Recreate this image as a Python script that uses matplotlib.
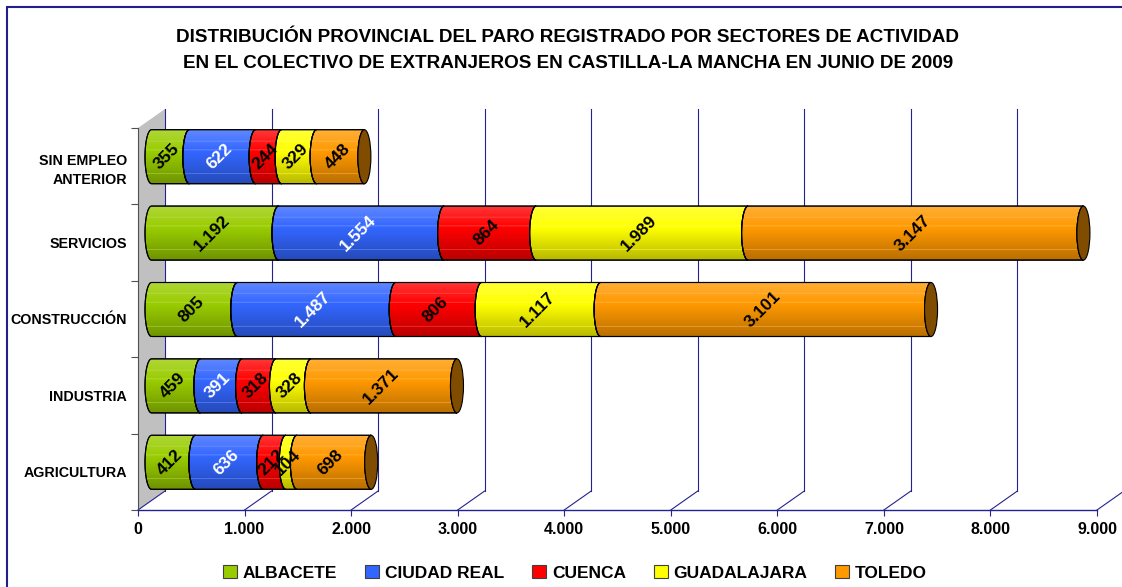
import numpy as np
import matplotlib.pyplot as plt
from matplotlib.patches import Polygon, Ellipse, Rectangle, Patch
from matplotlib.ticker import FuncFormatter

plt.rcParams['font.family'] = ['Liberation Sans', 'DejaVu Sans']
plt.rcParams['font.weight'] = 'bold'

# datos (de abajo a arriba)
sectores = ['AGRICULTURA', 'INDUSTRIA', 'CONSTRUCCIÓN', 'SERVICIOS', 'SIN EMPLEO\nANTERIOR']
provincias = ['ALBACETE', 'CIUDAD REAL', 'CUENCA', 'GUADALAJARA', 'TOLEDO']
albacete = [412, 459, 805, 1192, 355]
ciudad_real = [636, 391, 1487, 1554, 622]
cuenca = [212, 318, 806, 864, 244]
guadalajara = [104, 328, 1117, 1989, 329]
toledo = [698, 1371, 3101, 3147, 448]
series = [albacete, ciudad_real, cuenca, guadalajara, toledo]

colores = ['#99cc00', '#3366ff', '#ff0000', '#ffff00', '#ff9900']
color_texto = ['black', 'white', 'black', 'black', 'black']
navy = '#23238f'

W, H = 1122, 587
fig = plt.figure(figsize=(W / 100, H / 100), dpi=100)
ax = fig.add_axes([138 / W, (H - 510) / H, 959 / W, 382 / H])
xmax = 9000
ax.set_xlim(0, xmax)
ax.set_ylim(-0.5, 4.5)

# unidades de datos por pixel, para el efecto 3D
ux = xmax / 959
uy = 5 / 382
DX, DY = 27 * ux, 19 * uy      # profundidad de la pared del fondo
ew = 6.5 * ux                  # semieje de las elipses
hh = 27 * uy                   # media altura del cilindro


def fmt(v, pos=None):
    return f'{int(v):,}'.replace(',', '.')


# pared lateral gris
ax.add_patch(Polygon([(0, -0.5), (DX, -0.5 + DY), (DX, 4.5 + DY), (0, 4.5)],
                     closed=True, facecolor='#c0c0c0', edgecolor='none',
                     zorder=0.5, clip_on=False))

# rejilla: suelo y pared del fondo
ticks = np.arange(0, xmax + 1, 1000)
for v in ticks:
    ax.plot([v, v + DX], [-0.5, -0.5 + DY], color=navy, lw=0.8, zorder=1, clip_on=False)
    ax.plot([v + DX, v + DX], [-0.5 + DY, 4.5 + DY], color=navy, lw=0.8, zorder=1, clip_on=False)


def sombra(n=80):
    img = np.zeros((n, 1, 4))
    t = np.linspace(0, 1, n)
    for i, ti in enumerate(t):
        if ti < 0.4:
            img[i, 0] = [1, 1, 1, 0.22 * (1 - ti / 0.4)]
        else:
            img[i, 0] = [0, 0, 0, 0.28 * (ti - 0.4) / 0.6]
    for tl in (0.2, 0.37, 0.8):
        k = int(tl * n)
        img[k, 0] = [1, 1, 1, 0.3]
    return img


grad = sombra()
th = np.linspace(-np.pi / 2, np.pi / 2, 40)

for j in range(len(sectores)):
    yc = j + DY / 2
    acum = 0
    for k, serie in enumerate(series):
        v = serie[j]
        x0 = acum + DX / 2
        x1 = acum + v + DX / 2
        izq = np.column_stack([x0 - ew * np.cos(th), yc + hh * np.sin(th)])
        der = np.column_stack([x1 - ew * np.cos(th[::-1]), yc + hh * np.sin(th[::-1])])
        poly = Polygon(np.vstack([izq, der]), closed=True, facecolor=colores[k],
                       edgecolor='black', lw=0.8, zorder=3, clip_on=False)
        ax.add_patch(poly)
        im = ax.imshow(grad, extent=[x0 - ew, x1, yc - hh, yc + hh], aspect='auto',
                       origin='upper', interpolation='bilinear', zorder=3.5)
        im.set_clip_path(poly)
        ax.add_patch(Polygon(np.vstack([izq, der]), closed=True, facecolor='none',
                             edgecolor='black', lw=0.8, zorder=3.6, clip_on=False))
        ax.text((x0 + x1) / 2 - ew / 2, yc, fmt(v), rotation=45, ha='center', va='center',
                fontsize=12.5, fontweight='bold', color=color_texto[k], zorder=5)
        acum += v
    ax.add_patch(Ellipse((acum + DX / 2, yc), 2 * ew, 2 * hh, facecolor='#7f4c00',
                         edgecolor='black', lw=0.8, zorder=4, clip_on=False))

ax.set_xlim(0, xmax)
ax.set_ylim(-0.5, 4.5)

# ejes
ax.set_xticks(ticks)
ax.xaxis.set_major_formatter(FuncFormatter(fmt))
ax.tick_params(axis='x', length=4, width=0.8, color=navy, labelsize=11.5, pad=5)
ax.set_yticks(range(len(sectores)))
ax.set_yticklabels(sectores, fontsize=10.3, fontweight='bold', linespacing=1.5)
ax.set_yticks(np.arange(-0.5, 5, 1), minor=True)
ax.tick_params(axis='y', which='major', length=0, pad=8)
ax.tick_params(axis='y', which='minor', length=5, width=0.8, color='#505050')
for lab in ax.get_xticklabels():
    lab.set_fontweight('bold')
for s in ('top', 'right'):
    ax.spines[s].set_visible(False)
ax.spines['bottom'].set_color(navy)
ax.spines['bottom'].set_linewidth(1.0)
ax.spines['left'].set_color('#505050')
ax.spines['left'].set_linewidth(0.8)
ax.patch.set_visible(False)

# titulo
fig.text(0.506, 1 - 38 / H,
         'DISTRIBUCIÓN PROVINCIAL DEL PARO REGISTRADO POR SECTORES DE ACTIVIDAD',
         ha='center', va='center', fontsize=13.6, fontweight='bold')
fig.text(0.506, 1 - 64 / H,
         'EN EL COLECTIVO DE EXTRANJEROS EN CASTILLA-LA MANCHA EN JUNIO DE 2009',
         ha='center', va='center', fontsize=13.6, fontweight='bold')

# leyenda
handles = [Patch(facecolor=c, edgecolor='#404040', lw=0.8) for c in colores]
fig.legend(handles, provincias, loc='center', bbox_to_anchor=(0.5125, 1 - 573 / H),
           ncol=5, frameon=False, fontsize=12.5, handlelength=0.8, handleheight=0.8,
           handletextpad=0.35, columnspacing=1.6, borderaxespad=0)

# marco
fig.add_artist(Rectangle((7 / W, -0.05), 1.2, 1 - 7 / H + 0.05, transform=fig.transFigure,
                         fill=False, edgecolor='#1f1f8f', lw=1.5))

fig.savefig('out.png', dpi=100)
